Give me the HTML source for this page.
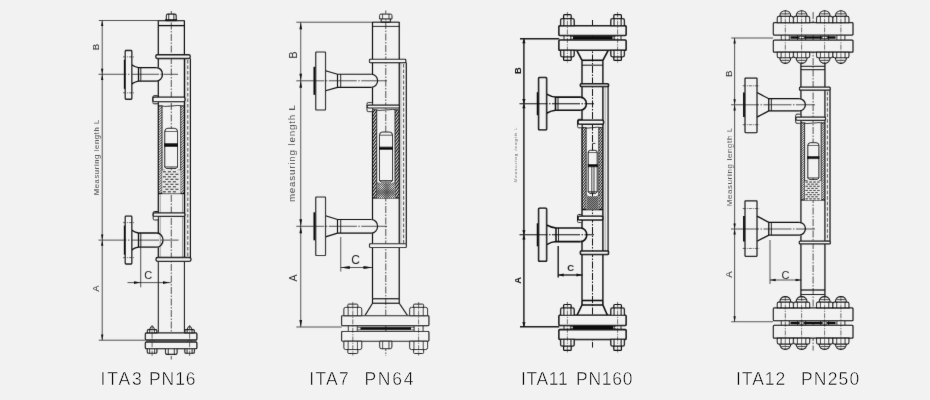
<!DOCTYPE html>
<html><head><meta charset="utf-8"><title>ITA gauges</title><style>html,body{margin:0;padding:0;background:#f2f2f2}body{width:930px;height:400px;overflow:hidden;font-family:"Liberation Sans",sans-serif}svg{display:block;filter:grayscale(1)}</style></head><body>
<svg width="930" height="400" viewBox="0 0 930 400" font-family="'Liberation Sans', sans-serif">
<defs><filter id="soft" x="0" y="0" width="930" height="400" filterUnits="userSpaceOnUse"><feConvolveMatrix order="3" kernelMatrix="0.0049 0.0602 0.0049 0.0602 0.7396 0.0602 0.0049 0.0602 0.0049" divisor="1" edgeMode="duplicate" preserveAlpha="false"/></filter></defs>
<g filter="url(#soft)">
<line x1="171.3" y1="11" x2="171.3" y2="359.5" stroke="#1c1c1c" stroke-width="0.75" stroke-dasharray="7 1.5 1.5 1.5"/>
<rect x="165.4" y="19.4" width="11.4" height="1.3" rx="0.5" fill="none" stroke="#0c0c0c" stroke-width="0.9"/>
<path d="M 166.4 19.5 L 166.4 15.72 Q 166.4 14.1 168.02 14.1 L 174.58 14.1 Q 176.2 14.1 176.2 15.72 L 176.2 19.5 Z" fill="#f2f2f2" stroke="#0c0c0c" stroke-width="1.1" />
<line x1="168.75" y1="14.1" x2="168.75" y2="19.5" stroke="#0c0c0c" stroke-width="0.88"/>
<line x1="173.85" y1="14.1" x2="173.85" y2="19.5" stroke="#0c0c0c" stroke-width="0.88"/>
<line x1="158.3" y1="20.7" x2="184.4" y2="20.7" stroke="#0c0c0c" stroke-width="1.1"/>
<line x1="158.3" y1="25.6" x2="184.4" y2="25.6" stroke="#0c0c0c" stroke-width="1.3"/>
<line x1="158.3" y1="20.5" x2="158.3" y2="67.6" stroke="#0c0c0c" stroke-width="1.2"/>
<line x1="158.3" y1="81.1" x2="158.3" y2="233" stroke="#0c0c0c" stroke-width="1.2"/>
<line x1="158.3" y1="247.2" x2="158.3" y2="261.3" stroke="#0c0c0c" stroke-width="1.2"/>
<line x1="158.3" y1="261.3" x2="158.3" y2="332.8" stroke="#0c0c0c" stroke-width="1"/>
<line x1="184.4" y1="20.5" x2="184.4" y2="261.3" stroke="#0c0c0c" stroke-width="1.2"/>
<line x1="184.4" y1="261.3" x2="184.4" y2="332.8" stroke="#0c0c0c" stroke-width="1"/>
<line x1="190.4" y1="58.5" x2="190.4" y2="257.5" stroke="#0c0c0c" stroke-width="1.15"/>
<line x1="185.7" y1="58.5" x2="185.7" y2="257.5" stroke="#555" stroke-width="0.45"/>
<line x1="187.8" y1="60" x2="187.8" y2="257.5" stroke="#0c0c0c" stroke-width="0.7" stroke-dasharray="3.5 2"/>
<path d="M 158.3 105.5 Q 164.8 107.1 171.3 106 T 184.4 106.1" fill="none" stroke="#0c0c0c" stroke-width="0.8" />
<clipPath id="h1"><rect x="158.3" y="105.5" width="3.7" height="88"/></clipPath>
<path d="M158.3 105.5L162 101.8M158.3 108L162 104.3M158.3 110.5L162 106.8M158.3 113L162 109.3M158.3 115.5L162 111.8M158.3 118L162 114.3M158.3 120.5L162 116.8M158.3 123L162 119.3M158.3 125.5L162 121.8M158.3 128L162 124.3M158.3 130.5L162 126.8M158.3 133L162 129.3M158.3 135.5L162 131.8M158.3 138L162 134.3M158.3 140.5L162 136.8M158.3 143L162 139.3M158.3 145.5L162 141.8M158.3 148L162 144.3M158.3 150.5L162 146.8M158.3 153L162 149.3M158.3 155.5L162 151.8M158.3 158L162 154.3M158.3 160.5L162 156.8M158.3 163L162 159.3M158.3 165.5L162 161.8M158.3 168L162 164.3M158.3 170.5L162 166.8M158.3 173L162 169.3M158.3 175.5L162 171.8M158.3 178L162 174.3M158.3 180.5L162 176.8M158.3 183L162 179.3M158.3 185.5L162 181.8M158.3 188L162 184.3M158.3 190.5L162 186.8M158.3 193L162 189.3M158.3 195.5L162 191.8M158.3 198L162 194.3M158.3 200.5L162 196.8" stroke="#0c0c0c" stroke-width="0.85" fill="none" clip-path="url(#h1)"/>
<clipPath id="h2"><rect x="180.7" y="105.5" width="3.7" height="88"/></clipPath>
<path d="M180.7 105.5L184.4 101.8M180.7 108L184.4 104.3M180.7 110.5L184.4 106.8M180.7 113L184.4 109.3M180.7 115.5L184.4 111.8M180.7 118L184.4 114.3M180.7 120.5L184.4 116.8M180.7 123L184.4 119.3M180.7 125.5L184.4 121.8M180.7 128L184.4 124.3M180.7 130.5L184.4 126.8M180.7 133L184.4 129.3M180.7 135.5L184.4 131.8M180.7 138L184.4 134.3M180.7 140.5L184.4 136.8M180.7 143L184.4 139.3M180.7 145.5L184.4 141.8M180.7 148L184.4 144.3M180.7 150.5L184.4 146.8M180.7 153L184.4 149.3M180.7 155.5L184.4 151.8M180.7 158L184.4 154.3M180.7 160.5L184.4 156.8M180.7 163L184.4 159.3M180.7 165.5L184.4 161.8M180.7 168L184.4 164.3M180.7 170.5L184.4 166.8M180.7 173L184.4 169.3M180.7 175.5L184.4 171.8M180.7 178L184.4 174.3M180.7 180.5L184.4 176.8M180.7 183L184.4 179.3M180.7 185.5L184.4 181.8M180.7 188L184.4 184.3M180.7 190.5L184.4 186.8M180.7 193L184.4 189.3M180.7 195.5L184.4 191.8M180.7 198L184.4 194.3M180.7 200.5L184.4 196.8" stroke="#0c0c0c" stroke-width="0.85" fill="none" clip-path="url(#h2)"/>
<line x1="162" y1="105.5" x2="162" y2="193.5" stroke="#0c0c0c" stroke-width="0.85"/>
<line x1="180.7" y1="105.5" x2="180.7" y2="193.5" stroke="#0c0c0c" stroke-width="0.85"/>
<line x1="158.3" y1="193.5" x2="184.4" y2="193.5" stroke="#0c0c0c" stroke-width="1.3"/>
<line x1="160.2" y1="193.5" x2="160.2" y2="257.5" stroke="#4a4a4a" stroke-width="0.5"/>
<line x1="182.5" y1="193.5" x2="182.5" y2="257.5" stroke="#4a4a4a" stroke-width="0.5"/>
<path d="M 164.75 167 L 164.75 131.49 Q 164.75 128.3 167.94 128.3 L 174.31 128.3 Q 177.5 128.3 177.5 131.49 L 177.5 167" fill="#f2f2f2" stroke="#0c0c0c" stroke-width="1" />
<line x1="164.75" y1="131.49" x2="177.5" y2="131.49" stroke="#0c0c0c" stroke-width="0.7"/>
<path d="M 164.75 167 L 166.25 168.6 L 176 168.6 L 177.5 167 Z" fill="none" stroke="#0c0c0c" stroke-width="0.9" />
<rect x="164.75" y="143.5" width="12.75" height="3.2" rx="0" fill="#0c0c0c" stroke="#0c0c0c" stroke-width="0.6"/>
<line x1="162" y1="170" x2="164.75" y2="170" stroke="#0c0c0c" stroke-width="0.7"/>
<line x1="177.5" y1="170" x2="180.7" y2="170" stroke="#0c0c0c" stroke-width="0.7"/>
<rect x="162.3" y="170.3" width="18.2" height="23.2" fill="#e7e7e7"/>
<path d="M162.9 171.8h3M167.9 171.8h3M172.9 171.8h3M165.4 174.3h3M170.4 174.3h3M175.4 174.3h3M162.9 176.8h3M167.9 176.8h3M172.9 176.8h3M165.4 179.3h3M170.4 179.3h3M175.4 179.3h3M162.9 181.8h3M167.9 181.8h3M172.9 181.8h3M165.4 184.3h3M170.4 184.3h3M175.4 184.3h3M162.9 186.8h3M167.9 186.8h3M172.9 186.8h3M165.4 189.3h3M170.4 189.3h3M175.4 189.3h3M162.9 191.8h3M167.9 191.8h3M172.9 191.8h3" stroke="#0c0c0c" stroke-width="0.95" fill="none"/>
<rect x="155.75" y="54.75" width="34.5" height="3.75" rx="1.8" fill="#f2f2f2" stroke="#0c0c0c" stroke-width="1.3"/>
<rect x="152.9" y="95.7" width="5.4" height="8.1" rx="1.2" fill="#f2f2f2" stroke="#0c0c0c" stroke-width="0.95"/>
<rect x="152.9" y="97.2" width="32.1" height="4.4" rx="1.5" fill="#f2f2f2" stroke="#0c0c0c" stroke-width="1.3"/>
<rect x="153.2" y="211.5" width="5.1" height="8.5" rx="1.2" fill="#f2f2f2" stroke="#0c0c0c" stroke-width="0.95"/>
<rect x="153.2" y="212.9" width="31.7" height="3.5" rx="1.5" fill="#f2f2f2" stroke="#0c0c0c" stroke-width="1.3"/>
<rect x="156" y="257.5" width="35" height="3.8" rx="1.8" fill="#f2f2f2" stroke="#0c0c0c" stroke-width="1.3"/>
<rect x="125.3" y="50.5" width="6.45" height="48.75" rx="0.8" fill="#f2f2f2" stroke="#0c0c0c" stroke-width="1.3"/>
<line x1="124.8" y1="59.7" x2="124.8" y2="88.9" stroke="#0c0c0c" stroke-width="1.9"/>
<line x1="123.1" y1="56.9" x2="133.95" y2="56.9" stroke="#1c1c1c" stroke-width="0.7" stroke-dasharray="3 1 1 1"/>
<line x1="123.1" y1="92.85" x2="133.95" y2="92.85" stroke="#1c1c1c" stroke-width="0.7" stroke-dasharray="3 1 1 1"/>
<path d="M 131.75 64.7 Q 135.46 67.25 138.5 67.55 L 156.3 67.55" fill="none" stroke="#0c0c0c" stroke-width="1.3" />
<path d="M 131.75 83.9 Q 135.46 81.35 138.5 81.05 L 156.3 81.05" fill="none" stroke="#0c0c0c" stroke-width="1.3" />
<line x1="138.5" y1="67.55" x2="138.5" y2="81.05" stroke="#0c0c0c" stroke-width="1.3"/>
<line x1="140.8" y1="67.55" x2="140.8" y2="81.05" stroke="#0c0c0c" stroke-width="0.9"/>
<path d="M 156.3 67.55 A 6.2 6.75 0 0 1 156.3 81.05" fill="none" stroke="#0c0c0c" stroke-width="1.3" />
<rect x="125.3" y="216.2" width="6.45" height="47.8" rx="0.8" fill="#f2f2f2" stroke="#0c0c0c" stroke-width="1.3"/>
<line x1="124.8" y1="225.5" x2="124.8" y2="254.7" stroke="#0c0c0c" stroke-width="1.9"/>
<line x1="123.1" y1="222.6" x2="133.95" y2="222.6" stroke="#1c1c1c" stroke-width="0.7" stroke-dasharray="3 1 1 1"/>
<line x1="123.1" y1="257.6" x2="133.95" y2="257.6" stroke="#1c1c1c" stroke-width="0.7" stroke-dasharray="3 1 1 1"/>
<path d="M 131.75 230.3 Q 135.46 232.7 138.5 233 L 156.8 233" fill="none" stroke="#0c0c0c" stroke-width="1.3" />
<path d="M 131.75 249.9 Q 135.46 247.5 138.5 247.2 L 156.8 247.2" fill="none" stroke="#0c0c0c" stroke-width="1.3" />
<line x1="138.5" y1="233" x2="138.5" y2="247.2" stroke="#0c0c0c" stroke-width="1.3"/>
<line x1="140.8" y1="233" x2="140.8" y2="247.2" stroke="#0c0c0c" stroke-width="0.9"/>
<path d="M 156.8 233 A 6.2 7.1 0 0 1 156.8 247.2" fill="none" stroke="#0c0c0c" stroke-width="1.3" />
<line x1="98.5" y1="74.3" x2="178" y2="74.3" stroke="#1c1c1c" stroke-width="0.75" stroke-dasharray="28 1.5 1.5 1.5"/>
<line x1="98.5" y1="240.1" x2="178.5" y2="240.1" stroke="#1c1c1c" stroke-width="0.75" stroke-dasharray="28 1.5 1.5 1.5"/>
<line x1="150.1" y1="340" x2="150.1" y2="342" stroke="#0c0c0c" stroke-width="0.7"/>
<line x1="154.1" y1="340" x2="154.1" y2="342" stroke="#0c0c0c" stroke-width="0.7"/>
<line x1="187.6" y1="340" x2="187.6" y2="342" stroke="#0c0c0c" stroke-width="0.7"/>
<line x1="191.6" y1="340" x2="191.6" y2="342" stroke="#0c0c0c" stroke-width="0.7"/>
<rect x="145.4" y="332.9" width="51.4" height="7.1" rx="1" fill="#f2f2f2" stroke="#0c0c0c" stroke-width="1.3"/>
<rect x="145.4" y="342" width="51.4" height="6.7" rx="1" fill="#f2f2f2" stroke="#0c0c0c" stroke-width="1.3"/>
<line x1="146" y1="341" x2="196.2" y2="341" stroke="#555" stroke-width="1.2"/>
<path d="M 149.5 329.6 L 150.9 326.8 L 153.3 326.8 L 154.7 329.6" fill="none" stroke="#0c0c0c" stroke-width="0.9" />
<path d="M 147.4 332.9 L 147.4 330.59 Q 147.4 329.6 148.39 329.6 L 155.81 329.6 Q 156.8 329.6 156.8 330.59 L 156.8 332.9 Z" fill="#f2f2f2" stroke="#0c0c0c" stroke-width="1.1" />
<line x1="149.66" y1="329.6" x2="149.66" y2="332.9" stroke="#0c0c0c" stroke-width="0.88"/>
<line x1="154.54" y1="329.6" x2="154.54" y2="332.9" stroke="#0c0c0c" stroke-width="0.88"/>
<path d="M 147.3 348.7 L 147.3 351.92 Q 147.3 353.3 148.68 353.3 L 155.52 353.3 Q 156.9 353.3 156.9 351.92 L 156.9 348.7 Z" fill="#f2f2f2" stroke="#0c0c0c" stroke-width="1.1" />
<line x1="149.6" y1="348.7" x2="149.6" y2="353.3" stroke="#0c0c0c" stroke-width="0.88"/>
<line x1="154.6" y1="348.7" x2="154.6" y2="353.3" stroke="#0c0c0c" stroke-width="0.88"/>
<line x1="152.1" y1="325" x2="152.1" y2="357" stroke="#1c1c1c" stroke-width="0.65" stroke-dasharray="5 1.2 1.2 1.2"/>
<path d="M 187 329.6 L 188.4 326.8 L 190.8 326.8 L 192.2 329.6" fill="none" stroke="#0c0c0c" stroke-width="0.9" />
<path d="M 184.9 332.9 L 184.9 330.59 Q 184.9 329.6 185.89 329.6 L 193.31 329.6 Q 194.3 329.6 194.3 330.59 L 194.3 332.9 Z" fill="#f2f2f2" stroke="#0c0c0c" stroke-width="1.1" />
<line x1="187.16" y1="329.6" x2="187.16" y2="332.9" stroke="#0c0c0c" stroke-width="0.88"/>
<line x1="192.04" y1="329.6" x2="192.04" y2="332.9" stroke="#0c0c0c" stroke-width="0.88"/>
<path d="M 184.8 348.7 L 184.8 351.92 Q 184.8 353.3 186.18 353.3 L 193.02 353.3 Q 194.4 353.3 194.4 351.92 L 194.4 348.7 Z" fill="#f2f2f2" stroke="#0c0c0c" stroke-width="1.1" />
<line x1="187.1" y1="348.7" x2="187.1" y2="353.3" stroke="#0c0c0c" stroke-width="0.88"/>
<line x1="192.1" y1="348.7" x2="192.1" y2="353.3" stroke="#0c0c0c" stroke-width="0.88"/>
<line x1="189.6" y1="325" x2="189.6" y2="357" stroke="#1c1c1c" stroke-width="0.65" stroke-dasharray="5 1.2 1.2 1.2"/>
<path d="M 165.5 348.7 L 165.5 352.69 Q 165.5 354.4 167.21 354.4 L 175.39 354.4 Q 177.1 354.4 177.1 352.69 L 177.1 348.7 Z" fill="#f2f2f2" stroke="#0c0c0c" stroke-width="1.1" />
<line x1="168.28" y1="348.7" x2="168.28" y2="354.4" stroke="#0c0c0c" stroke-width="0.88"/>
<line x1="174.32" y1="348.7" x2="174.32" y2="354.4" stroke="#0c0c0c" stroke-width="0.88"/>
<line x1="98.8" y1="20.5" x2="158.3" y2="20.5" stroke="#1c1c1c" stroke-width="0.75"/>
<line x1="98.8" y1="340.2" x2="145.3" y2="340.2" stroke="#1c1c1c" stroke-width="0.75"/>
<line x1="102.2" y1="20.5" x2="102.2" y2="340.2" stroke="#1c1c1c" stroke-width="0.75"/>
<polygon points="102.2,20.5 101.05,26.1 103.35,26.1" fill="#0c0c0c"/>
<polygon points="102.2,74.3 101.05,68.7 103.35,68.7" fill="#0c0c0c"/>
<polygon points="102.2,74.3 101.05,79.9 103.35,79.9" fill="#0c0c0c"/>
<polygon points="102.2,240.1 101.05,234.5 103.35,234.5" fill="#0c0c0c"/>
<polygon points="102.2,240.1 101.05,245.7 103.35,245.7" fill="#0c0c0c"/>
<polygon points="102.2,340.2 101.05,334.6 103.35,334.6" fill="#0c0c0c"/>
<text x="99.3" y="47" font-size="9.6" text-anchor="middle" fill="#2a2a2a" transform="rotate(-90 99.3 47)">B</text>
<text x="99.3" y="157.5" font-size="7.6" text-anchor="middle" fill="#111" transform="rotate(-90 99.3 157.5)" textLength="75.5" lengthAdjust="spacing" stroke="#f2f2f2" stroke-width="0.1">Measuring length L</text>
<text x="99.3" y="288.5" font-size="9.6" text-anchor="middle" fill="#2a2a2a" transform="rotate(-90 99.3 288.5)">A</text>
<line x1="140.7" y1="247.5" x2="140.7" y2="287.3" stroke="#1c1c1c" stroke-width="0.75"/>
<line x1="127.5" y1="282.6" x2="170.8" y2="282.6" stroke="#1c1c1c" stroke-width="0.75"/>
<polygon points="140.5,282.6 134,281.3 134,283.9" fill="#0c0c0c"/>
<polygon points="169.5,282.6 163,281.3 163,283.9" fill="#0c0c0c"/>
<text x="148.2" y="279.3" font-size="11" text-anchor="middle" fill="#1e1e1e">C</text>
<line x1="385.8" y1="10.5" x2="385.8" y2="356" stroke="#1c1c1c" stroke-width="0.75" stroke-dasharray="7 1.5 1.5 1.5"/>
<rect x="381.2" y="18.6" width="9.2" height="3.6" rx="0.4" fill="none" stroke="#0c0c0c" stroke-width="1"/>
<path d="M 379.6 18.9 L 379.6 15.54 Q 379.6 14.1 381.04 14.1 L 390.56 14.1 Q 392 14.1 392 15.54 L 392 18.9 Z" fill="#f2f2f2" stroke="#0c0c0c" stroke-width="0.98" />
<line x1="382.58" y1="14.1" x2="382.58" y2="18.9" stroke="#0c0c0c" stroke-width="0.78"/>
<line x1="389.02" y1="14.1" x2="389.02" y2="18.9" stroke="#0c0c0c" stroke-width="0.78"/>
<line x1="372.5" y1="22.2" x2="399.25" y2="22.2" stroke="#0c0c0c" stroke-width="1.1"/>
<line x1="372.5" y1="26.4" x2="399.25" y2="26.4" stroke="#0c0c0c" stroke-width="0.9"/>
<line x1="372.5" y1="22" x2="372.5" y2="74.2" stroke="#0c0c0c" stroke-width="1.2"/>
<line x1="372.5" y1="87.4" x2="372.5" y2="219.6" stroke="#0c0c0c" stroke-width="1.2"/>
<line x1="372.5" y1="233.2" x2="372.5" y2="298.75" stroke="#0c0c0c" stroke-width="1.2"/>
<line x1="399.25" y1="22" x2="399.25" y2="298.75" stroke="#0c0c0c" stroke-width="1.2"/>
<line x1="406.3" y1="62.6" x2="406.3" y2="243.75" stroke="#0c0c0c" stroke-width="1.15"/>
<line x1="400.9" y1="62.6" x2="400.9" y2="243.75" stroke="#555" stroke-width="0.45"/>
<line x1="403.6" y1="64.1" x2="403.6" y2="243.75" stroke="#0c0c0c" stroke-width="0.7" stroke-dasharray="3.5 2"/>
<path d="M 372.5 109.5 Q 379.15 111.1 385.8 110 T 399.25 110.1" fill="none" stroke="#0c0c0c" stroke-width="0.8" />
<clipPath id="h3"><rect x="372.5" y="109.5" width="4.2" height="88.5"/></clipPath>
<path d="M372.5 109.5L376.7 103.62M372.5 113.1L376.7 107.22M372.5 116.7L376.7 110.82M372.5 120.3L376.7 114.42M372.5 123.9L376.7 118.02M372.5 127.5L376.7 121.62M372.5 131.1L376.7 125.22M372.5 134.7L376.7 128.82M372.5 138.3L376.7 132.42M372.5 141.9L376.7 136.02M372.5 145.5L376.7 139.62M372.5 149.1L376.7 143.22M372.5 152.7L376.7 146.82M372.5 156.3L376.7 150.42M372.5 159.9L376.7 154.02M372.5 163.5L376.7 157.62M372.5 167.1L376.7 161.22M372.5 170.7L376.7 164.82M372.5 174.3L376.7 168.42M372.5 177.9L376.7 172.02M372.5 181.5L376.7 175.62M372.5 185.1L376.7 179.22M372.5 188.7L376.7 182.82M372.5 192.3L376.7 186.42M372.5 195.9L376.7 190.02M372.5 199.5L376.7 193.62M372.5 203.1L376.7 197.22M372.5 206.7L376.7 200.82" stroke="#0c0c0c" stroke-width="1.05" fill="none" clip-path="url(#h3)"/>
<clipPath id="h4"><rect x="395.05" y="109.5" width="4.2" height="88.5"/></clipPath>
<path d="M395.05 109.5L399.25 103.62M395.05 113.1L399.25 107.22M395.05 116.7L399.25 110.82M395.05 120.3L399.25 114.42M395.05 123.9L399.25 118.02M395.05 127.5L399.25 121.62M395.05 131.1L399.25 125.22M395.05 134.7L399.25 128.82M395.05 138.3L399.25 132.42M395.05 141.9L399.25 136.02M395.05 145.5L399.25 139.62M395.05 149.1L399.25 143.22M395.05 152.7L399.25 146.82M395.05 156.3L399.25 150.42M395.05 159.9L399.25 154.02M395.05 163.5L399.25 157.62M395.05 167.1L399.25 161.22M395.05 170.7L399.25 164.82M395.05 174.3L399.25 168.42M395.05 177.9L399.25 172.02M395.05 181.5L399.25 175.62M395.05 185.1L399.25 179.22M395.05 188.7L399.25 182.82M395.05 192.3L399.25 186.42M395.05 195.9L399.25 190.02M395.05 199.5L399.25 193.62M395.05 203.1L399.25 197.22M395.05 206.7L399.25 200.82" stroke="#0c0c0c" stroke-width="1.05" fill="none" clip-path="url(#h4)"/>
<line x1="376.7" y1="109.5" x2="376.7" y2="198" stroke="#0c0c0c" stroke-width="0.85"/>
<line x1="395.05" y1="109.5" x2="395.05" y2="198" stroke="#0c0c0c" stroke-width="0.85"/>
<line x1="372.5" y1="198" x2="399.25" y2="198" stroke="#0c0c0c" stroke-width="1.15"/>
<path d="M 379.5 180.5 L 379.5 135.2 Q 379.5 132 382.7 132 L 389.3 132 Q 392.5 132 392.5 135.2 L 392.5 180.5" fill="#f2f2f2" stroke="#0c0c0c" stroke-width="1" />
<line x1="379.5" y1="135.2" x2="392.5" y2="135.2" stroke="#0c0c0c" stroke-width="0.7"/>
<path d="M 379.5 180.5 L 381 182.1 L 391 182.1 L 392.5 180.5 Z" fill="none" stroke="#0c0c0c" stroke-width="0.9" />
<rect x="379.5" y="147" width="13" height="2.6" rx="0" fill="#0c0c0c" stroke="#0c0c0c" stroke-width="0.6"/>
<line x1="376.7" y1="183" x2="379.5" y2="183" stroke="#0c0c0c" stroke-width="0.7"/>
<line x1="392.5" y1="183" x2="395.05" y2="183" stroke="#0c0c0c" stroke-width="0.7"/>
<rect x="377" y="183.3" width="17.85" height="14.7" fill="#e7e7e7"/>
<clipPath id="h5"><rect x="377" y="183.3" width="17.85" height="14.7"/></clipPath>
<path d="M377 183.3L394.85 165.45M377 165.45L394.85 183.3M377 185.5L394.85 167.65M377 167.65L394.85 185.5M377 187.7L394.85 169.85M377 169.85L394.85 187.7M377 189.9L394.85 172.05M377 172.05L394.85 189.9M377 192.1L394.85 174.25M377 174.25L394.85 192.1M377 194.3L394.85 176.45M377 176.45L394.85 194.3M377 196.5L394.85 178.65M377 178.65L394.85 196.5M377 198.7L394.85 180.85M377 180.85L394.85 198.7M377 200.9L394.85 183.05M377 183.05L394.85 200.9M377 203.1L394.85 185.25M377 185.25L394.85 203.1M377 205.3L394.85 187.45M377 187.45L394.85 205.3M377 207.5L394.85 189.65M377 189.65L394.85 207.5M377 209.7L394.85 191.85M377 191.85L394.85 209.7M377 211.9L394.85 194.05M377 194.05L394.85 211.9M377 214.1L394.85 196.25M377 196.25L394.85 214.1M377 216.3L394.85 198.45M377 198.45L394.85 216.3M377 218.5L394.85 200.65M377 200.65L394.85 218.5M377 220.7L394.85 202.85M377 202.85L394.85 220.7M377 222.9L394.85 205.05M377 205.05L394.85 222.9M377 225.1L394.85 207.25M377 207.25L394.85 225.1M377 227.3L394.85 209.45M377 209.45L394.85 227.3M377 229.5L394.85 211.65M377 211.65L394.85 229.5M377 231.7L394.85 213.85M377 213.85L394.85 231.7" stroke="#0c0c0c" stroke-width="0.7" fill="none" clip-path="url(#h5)"/>
<rect x="369.5" y="59.25" width="36.3" height="3.35" rx="0.9" fill="#f2f2f2" stroke="#0c0c0c" stroke-width="1.15"/>
<rect x="367" y="102.6" width="5.5" height="9" rx="1.2" fill="#f2f2f2" stroke="#0c0c0c" stroke-width="0.95"/>
<rect x="367.3" y="105.1" width="32.2" height="2.9" rx="1.5" fill="#f2f2f2" stroke="#0c0c0c" stroke-width="1.15"/>
<rect x="369.5" y="243.75" width="36.9" height="3.75" rx="0.9" fill="#f2f2f2" stroke="#0c0c0c" stroke-width="1.15"/>
<rect x="315.75" y="52" width="9.75" height="58" rx="0.8" fill="#f2f2f2" stroke="#0c0c0c" stroke-width="1.15"/>
<line x1="314.45" y1="66.8" x2="314.45" y2="94.8" stroke="#0c0c0c" stroke-width="1.9"/>
<path d="M 325.5 70.8 L 337.5 74.2 L 371.4 74.2" fill="none" stroke="#0c0c0c" stroke-width="1.15" />
<path d="M 325.5 90.8 L 337.5 87.4 L 371.4 87.4" fill="none" stroke="#0c0c0c" stroke-width="1.15" />
<line x1="337.5" y1="74.2" x2="337.5" y2="87.4" stroke="#0c0c0c" stroke-width="1.15"/>
<line x1="340.7" y1="74.2" x2="340.7" y2="87.4" stroke="#0c0c0c" stroke-width="0.9"/>
<path d="M 371.4 74.2 A 6.2 6.6 0 0 1 371.4 87.4" fill="none" stroke="#0c0c0c" stroke-width="1.15" />
<rect x="315.75" y="197" width="9.75" height="58.5" rx="0.8" fill="#f2f2f2" stroke="#0c0c0c" stroke-width="1.15"/>
<line x1="314.45" y1="212.3" x2="314.45" y2="240.3" stroke="#0c0c0c" stroke-width="1.9"/>
<path d="M 325.5 215.7 L 337.5 219.5 L 371.4 219.5" fill="none" stroke="#0c0c0c" stroke-width="1.15" />
<path d="M 325.5 236.9 L 337.5 233.1 L 371.4 233.1" fill="none" stroke="#0c0c0c" stroke-width="1.15" />
<line x1="337.5" y1="219.5" x2="337.5" y2="233.1" stroke="#0c0c0c" stroke-width="1.15"/>
<line x1="340.7" y1="219.5" x2="340.7" y2="233.1" stroke="#0c0c0c" stroke-width="0.9"/>
<path d="M 371.4 219.5 A 6.2 6.8 0 0 1 371.4 233.1" fill="none" stroke="#0c0c0c" stroke-width="1.15" />
<line x1="296.3" y1="80.8" x2="387" y2="80.8" stroke="#1c1c1c" stroke-width="0.75" stroke-dasharray="28 1.5 1.5 1.5"/>
<line x1="296.3" y1="226.3" x2="387" y2="226.3" stroke="#1c1c1c" stroke-width="0.75" stroke-dasharray="28 1.5 1.5 1.5"/>
<line x1="372.5" y1="298.75" x2="399.25" y2="298.75" stroke="#0c0c0c" stroke-width="1.15"/>
<line x1="372.5" y1="303.25" x2="399.25" y2="303.25" stroke="#0c0c0c" stroke-width="1.15"/>
<line x1="372.5" y1="298.75" x2="372.5" y2="303.25" stroke="#0c0c0c" stroke-width="1.15"/>
<line x1="399.25" y1="298.75" x2="399.25" y2="303.25" stroke="#0c0c0c" stroke-width="1.15"/>
<path d="M 372.5 303.25 L 365 315.5" fill="none" stroke="#0c0c0c" stroke-width="1.15" />
<path d="M 399.25 303.25 L 407.5 315.5" fill="none" stroke="#0c0c0c" stroke-width="1.15" />
<line x1="348.32" y1="325.6" x2="348.32" y2="331.5" stroke="#0c0c0c" stroke-width="0.8"/>
<line x1="357.28" y1="325.6" x2="357.28" y2="331.5" stroke="#0c0c0c" stroke-width="0.8"/>
<line x1="414.12" y1="325.6" x2="414.12" y2="331.5" stroke="#0c0c0c" stroke-width="0.8"/>
<line x1="423.08" y1="325.6" x2="423.08" y2="331.5" stroke="#0c0c0c" stroke-width="0.8"/>
<rect x="341.6" y="315.7" width="87.3" height="9.9" rx="0.9" fill="#f2f2f2" stroke="#0c0c0c" stroke-width="1.15"/>
<rect x="341.6" y="331.5" width="87.3" height="9.7" rx="0.9" fill="#f2f2f2" stroke="#0c0c0c" stroke-width="1.15"/>
<line x1="360.5" y1="328.55" x2="411" y2="328.55" stroke="#0c0c0c" stroke-width="2.4"/>
<line x1="357.5" y1="327.25" x2="414" y2="327.25" stroke="#0c0c0c" stroke-width="0.6"/>
<line x1="357.5" y1="329.85" x2="414" y2="329.85" stroke="#0c0c0c" stroke-width="0.6"/>
<path d="M 343.85 315.7 L 343.85 309.2 Q 343.85 307.4 345.65 307.4 L 359.95 307.4 Q 361.75 307.4 361.75 309.2 L 361.75 315.7 Z" fill="#f2f2f2" stroke="#0c0c0c" stroke-width="0.98" />
<line x1="348.15" y1="307.4" x2="348.15" y2="315.7" stroke="#0c0c0c" stroke-width="0.78"/>
<line x1="357.45" y1="307.4" x2="357.45" y2="315.7" stroke="#0c0c0c" stroke-width="0.78"/>
<path d="M 347.79 307.4 L 347.79 305.1 Q 347.79 304.1 348.79 304.1 L 356.81 304.1 Q 357.81 304.1 357.81 305.1 L 357.81 307.4" fill="none" stroke="#0c0c0c" stroke-width="0.88" />
<path d="M 343.85 341.2 L 343.85 347.7 Q 343.85 349.5 345.65 349.5 L 359.95 349.5 Q 361.75 349.5 361.75 347.7 L 361.75 341.2 Z" fill="#f2f2f2" stroke="#0c0c0c" stroke-width="0.98" />
<line x1="348.15" y1="341.2" x2="348.15" y2="349.5" stroke="#0c0c0c" stroke-width="0.78"/>
<line x1="357.45" y1="341.2" x2="357.45" y2="349.5" stroke="#0c0c0c" stroke-width="0.78"/>
<path d="M 347.79 349.5 L 347.79 352.5 Q 347.79 353.5 348.79 353.5 L 356.81 353.5 Q 357.81 353.5 357.81 352.5 L 357.81 349.5" fill="none" stroke="#0c0c0c" stroke-width="0.88" />
<line x1="352.8" y1="302.1" x2="352.8" y2="355.5" stroke="#1c1c1c" stroke-width="0.65" stroke-dasharray="5 1.2 1.2 1.2"/>
<path d="M 409.65 315.7 L 409.65 309.2 Q 409.65 307.4 411.45 307.4 L 425.75 307.4 Q 427.55 307.4 427.55 309.2 L 427.55 315.7 Z" fill="#f2f2f2" stroke="#0c0c0c" stroke-width="0.98" />
<line x1="413.95" y1="307.4" x2="413.95" y2="315.7" stroke="#0c0c0c" stroke-width="0.78"/>
<line x1="423.25" y1="307.4" x2="423.25" y2="315.7" stroke="#0c0c0c" stroke-width="0.78"/>
<path d="M 413.59 307.4 L 413.59 305.1 Q 413.59 304.1 414.59 304.1 L 422.61 304.1 Q 423.61 304.1 423.61 305.1 L 423.61 307.4" fill="none" stroke="#0c0c0c" stroke-width="0.88" />
<path d="M 409.65 341.2 L 409.65 347.7 Q 409.65 349.5 411.45 349.5 L 425.75 349.5 Q 427.55 349.5 427.55 347.7 L 427.55 341.2 Z" fill="#f2f2f2" stroke="#0c0c0c" stroke-width="0.98" />
<line x1="413.95" y1="341.2" x2="413.95" y2="349.5" stroke="#0c0c0c" stroke-width="0.78"/>
<line x1="423.25" y1="341.2" x2="423.25" y2="349.5" stroke="#0c0c0c" stroke-width="0.78"/>
<path d="M 413.59 349.5 L 413.59 352.5 Q 413.59 353.5 414.59 353.5 L 422.61 353.5 Q 423.61 353.5 423.61 352.5 L 423.61 349.5" fill="none" stroke="#0c0c0c" stroke-width="0.88" />
<line x1="418.6" y1="302.1" x2="418.6" y2="355.5" stroke="#1c1c1c" stroke-width="0.65" stroke-dasharray="5 1.2 1.2 1.2"/>
<path d="M 379.7 341.2 L 379.7 346.9 Q 379.7 348.7 381.5 348.7 L 390.1 348.7 Q 391.9 348.7 391.9 346.9 L 391.9 341.2 Z" fill="#f2f2f2" stroke="#0c0c0c" stroke-width="0.98" />
<line x1="382.63" y1="341.2" x2="382.63" y2="348.7" stroke="#0c0c0c" stroke-width="0.78"/>
<line x1="388.97" y1="341.2" x2="388.97" y2="348.7" stroke="#0c0c0c" stroke-width="0.78"/>
<line x1="296.3" y1="22.2" x2="372.5" y2="22.2" stroke="#1c1c1c" stroke-width="0.75"/>
<line x1="296.3" y1="327" x2="341.75" y2="327" stroke="#1c1c1c" stroke-width="0.75"/>
<line x1="300.75" y1="22.2" x2="300.75" y2="327" stroke="#1c1c1c" stroke-width="0.75"/>
<polygon points="300.75,22.2 299.45,29.2 302.05,29.2" fill="#0c0c0c"/>
<polygon points="300.75,80.8 299.45,73.8 302.05,73.8" fill="#0c0c0c"/>
<polygon points="300.75,80.8 299.45,87.8 302.05,87.8" fill="#0c0c0c"/>
<polygon points="300.75,226.3 299.45,219.3 302.05,219.3" fill="#0c0c0c"/>
<polygon points="300.75,226.3 299.45,233.3 302.05,233.3" fill="#0c0c0c"/>
<polygon points="300.75,327 299.45,320 302.05,320" fill="#0c0c0c"/>
<text x="297.2" y="55" font-size="10.5" text-anchor="middle" fill="#2a2a2a" transform="rotate(-90 297.2 55)">B</text>
<text x="295.2" y="153.6" font-size="9.7" text-anchor="middle" fill="#111" transform="rotate(-90 295.2 153.6)" textLength="97" lengthAdjust="spacing" stroke="#f2f2f2" stroke-width="0.1">measuring length L</text>
<text x="297.2" y="278" font-size="10.5" text-anchor="middle" fill="#2a2a2a" transform="rotate(-90 297.2 278)">A</text>
<line x1="340.75" y1="237" x2="340.75" y2="271.5" stroke="#1c1c1c" stroke-width="0.75"/>
<line x1="340.75" y1="267.5" x2="372.5" y2="267.5" stroke="#1c1c1c" stroke-width="0.75"/>
<polygon points="340.75,267.5 349.75,266 349.75,269" fill="#0c0c0c"/>
<polygon points="372.5,267.5 363.5,266 363.5,269" fill="#0c0c0c"/>
<text x="355.6" y="263.8" font-size="12" text-anchor="middle" fill="#1e1e1e">C</text>
<line x1="592.5" y1="20" x2="592.5" y2="347.5" stroke="#0c0c0c" stroke-width="1" stroke-dasharray="7 1.5 1.5 1.5"/>
<line x1="564" y1="35.5" x2="564" y2="40" stroke="#0c0c0c" stroke-width="0.8"/>
<line x1="570.8" y1="35.5" x2="570.8" y2="40" stroke="#0c0c0c" stroke-width="0.8"/>
<line x1="614.2" y1="35.5" x2="614.2" y2="40" stroke="#0c0c0c" stroke-width="0.8"/>
<line x1="621" y1="35.5" x2="621" y2="40" stroke="#0c0c0c" stroke-width="0.8"/>
<rect x="558.9" y="25.7" width="67.2" height="9.8" rx="0.9" fill="#f2f2f2" stroke="#0c0c0c" stroke-width="1.55"/>
<rect x="558.9" y="40" width="67.2" height="10.3" rx="0.9" fill="#f2f2f2" stroke="#0c0c0c" stroke-width="1.55"/>
<line x1="573" y1="37.75" x2="612.5" y2="37.75" stroke="#0c0c0c" stroke-width="2.9"/>
<line x1="570" y1="36.45" x2="615.5" y2="36.45" stroke="#0c0c0c" stroke-width="0.6"/>
<line x1="570" y1="39.05" x2="615.5" y2="39.05" stroke="#0c0c0c" stroke-width="0.6"/>
<path d="M 560.6 25.7 L 560.6 20.5 Q 560.6 18.7 562.4 18.7 L 572.4 18.7 Q 574.2 18.7 574.2 20.5 L 574.2 25.7 Z" fill="#f2f2f2" stroke="#0c0c0c" stroke-width="1.32" />
<line x1="563.86" y1="18.7" x2="563.86" y2="25.7" stroke="#0c0c0c" stroke-width="1.05"/>
<line x1="570.94" y1="18.7" x2="570.94" y2="25.7" stroke="#0c0c0c" stroke-width="1.05"/>
<path d="M 563.59 18.7 L 563.59 15.7 Q 563.59 14.7 564.59 14.7 L 570.21 14.7 Q 571.21 14.7 571.21 15.7 L 571.21 18.7" fill="none" stroke="#0c0c0c" stroke-width="1.19" />
<path d="M 560.6 50.3 L 560.6 55 Q 560.6 56.8 562.4 56.8 L 572.4 56.8 Q 574.2 56.8 574.2 55 L 574.2 50.3 Z" fill="#f2f2f2" stroke="#0c0c0c" stroke-width="1.32" />
<line x1="563.86" y1="50.3" x2="563.86" y2="56.8" stroke="#0c0c0c" stroke-width="1.05"/>
<line x1="570.94" y1="50.3" x2="570.94" y2="56.8" stroke="#0c0c0c" stroke-width="1.05"/>
<path d="M 563.59 56.8 L 563.59 59.4 Q 563.59 60.4 564.59 60.4 L 570.21 60.4 Q 571.21 60.4 571.21 59.4 L 571.21 56.8" fill="none" stroke="#0c0c0c" stroke-width="1.19" />
<line x1="567.4" y1="12.2" x2="567.4" y2="62.9" stroke="#1c1c1c" stroke-width="0.65" stroke-dasharray="5 1.2 1.2 1.2"/>
<path d="M 610.8 25.7 L 610.8 20.5 Q 610.8 18.7 612.6 18.7 L 622.6 18.7 Q 624.4 18.7 624.4 20.5 L 624.4 25.7 Z" fill="#f2f2f2" stroke="#0c0c0c" stroke-width="1.32" />
<line x1="614.06" y1="18.7" x2="614.06" y2="25.7" stroke="#0c0c0c" stroke-width="1.05"/>
<line x1="621.14" y1="18.7" x2="621.14" y2="25.7" stroke="#0c0c0c" stroke-width="1.05"/>
<path d="M 613.79 18.7 L 613.79 15.7 Q 613.79 14.7 614.79 14.7 L 620.41 14.7 Q 621.41 14.7 621.41 15.7 L 621.41 18.7" fill="none" stroke="#0c0c0c" stroke-width="1.19" />
<path d="M 610.8 50.3 L 610.8 55 Q 610.8 56.8 612.6 56.8 L 622.6 56.8 Q 624.4 56.8 624.4 55 L 624.4 50.3 Z" fill="#f2f2f2" stroke="#0c0c0c" stroke-width="1.32" />
<line x1="614.06" y1="50.3" x2="614.06" y2="56.8" stroke="#0c0c0c" stroke-width="1.05"/>
<line x1="621.14" y1="50.3" x2="621.14" y2="56.8" stroke="#0c0c0c" stroke-width="1.05"/>
<path d="M 613.79 56.8 L 613.79 59.4 Q 613.79 60.4 614.79 60.4 L 620.41 60.4 Q 621.41 60.4 621.41 59.4 L 621.41 56.8" fill="none" stroke="#0c0c0c" stroke-width="1.19" />
<line x1="617.6" y1="12.2" x2="617.6" y2="62.9" stroke="#1c1c1c" stroke-width="0.65" stroke-dasharray="5 1.2 1.2 1.2"/>
<path d="M 576.8 50.3 L 582 60.3" fill="none" stroke="#0c0c0c" stroke-width="1.55" />
<path d="M 608.2 50.3 L 602.9 60.3" fill="none" stroke="#0c0c0c" stroke-width="1.55" />
<line x1="582" y1="60.3" x2="602.9" y2="60.3" stroke="#0c0c0c" stroke-width="1.55"/>
<line x1="582" y1="65.2" x2="602.9" y2="65.2" stroke="#0c0c0c" stroke-width="1"/>
<line x1="582" y1="60.3" x2="582" y2="96.9" stroke="#0c0c0c" stroke-width="1.4"/>
<line x1="582" y1="110.5" x2="582" y2="227.9" stroke="#0c0c0c" stroke-width="1.4"/>
<line x1="582" y1="241.7" x2="582" y2="300.5" stroke="#0c0c0c" stroke-width="1.4"/>
<line x1="602.9" y1="60.3" x2="602.9" y2="300.5" stroke="#0c0c0c" stroke-width="1.4"/>
<line x1="608.1" y1="86.5" x2="608.1" y2="250.9" stroke="#0c0c0c" stroke-width="1.15"/>
<line x1="605.2" y1="86.5" x2="605.2" y2="250.9" stroke="#555" stroke-width="0.45"/>
<path d="M 582 127.2 Q 587.25 128.8 592.5 127.7 T 602.9 127.8" fill="none" stroke="#0c0c0c" stroke-width="0.8" />
<clipPath id="h6"><rect x="582" y="127.2" width="4.1" height="82.3"/></clipPath>
<path d="M582 127.2L586.1 121.46M582 130.2L586.1 124.46M582 133.2L586.1 127.46M582 136.2L586.1 130.46M582 139.2L586.1 133.46M582 142.2L586.1 136.46M582 145.2L586.1 139.46M582 148.2L586.1 142.46M582 151.2L586.1 145.46M582 154.2L586.1 148.46M582 157.2L586.1 151.46M582 160.2L586.1 154.46M582 163.2L586.1 157.46M582 166.2L586.1 160.46M582 169.2L586.1 163.46M582 172.2L586.1 166.46M582 175.2L586.1 169.46M582 178.2L586.1 172.46M582 181.2L586.1 175.46M582 184.2L586.1 178.46M582 187.2L586.1 181.46M582 190.2L586.1 184.46M582 193.2L586.1 187.46M582 196.2L586.1 190.46M582 199.2L586.1 193.46M582 202.2L586.1 196.46M582 205.2L586.1 199.46M582 208.2L586.1 202.46M582 211.2L586.1 205.46M582 214.2L586.1 208.46M582 217.2L586.1 211.46M582 220.2L586.1 214.46" stroke="#0c0c0c" stroke-width="1" fill="none" clip-path="url(#h6)"/>
<clipPath id="h7"><rect x="598.8" y="127.2" width="4.1" height="82.3"/></clipPath>
<path d="M598.8 127.2L602.9 121.46M598.8 130.2L602.9 124.46M598.8 133.2L602.9 127.46M598.8 136.2L602.9 130.46M598.8 139.2L602.9 133.46M598.8 142.2L602.9 136.46M598.8 145.2L602.9 139.46M598.8 148.2L602.9 142.46M598.8 151.2L602.9 145.46M598.8 154.2L602.9 148.46M598.8 157.2L602.9 151.46M598.8 160.2L602.9 154.46M598.8 163.2L602.9 157.46M598.8 166.2L602.9 160.46M598.8 169.2L602.9 163.46M598.8 172.2L602.9 166.46M598.8 175.2L602.9 169.46M598.8 178.2L602.9 172.46M598.8 181.2L602.9 175.46M598.8 184.2L602.9 178.46M598.8 187.2L602.9 181.46M598.8 190.2L602.9 184.46M598.8 193.2L602.9 187.46M598.8 196.2L602.9 190.46M598.8 199.2L602.9 193.46M598.8 202.2L602.9 196.46M598.8 205.2L602.9 199.46M598.8 208.2L602.9 202.46M598.8 211.2L602.9 205.46M598.8 214.2L602.9 208.46M598.8 217.2L602.9 211.46M598.8 220.2L602.9 214.46" stroke="#0c0c0c" stroke-width="1" fill="none" clip-path="url(#h7)"/>
<line x1="586.1" y1="127.2" x2="586.1" y2="209.5" stroke="#0c0c0c" stroke-width="0.85"/>
<line x1="598.8" y1="127.2" x2="598.8" y2="209.5" stroke="#0c0c0c" stroke-width="0.85"/>
<line x1="582" y1="209.5" x2="602.9" y2="209.5" stroke="#0c0c0c" stroke-width="1.55"/>
<path d="M 588.2 191.8 L 588.2 152.55 Q 588.2 150.3 590.45 150.3 L 594.95 150.3 Q 597.2 150.3 597.2 152.55 L 597.2 191.8" fill="#f2f2f2" stroke="#0c0c0c" stroke-width="1" />
<line x1="588.2" y1="152.55" x2="597.2" y2="152.55" stroke="#0c0c0c" stroke-width="0.7"/>
<path d="M 588.2 191.8 L 589.7 193.4 L 595.7 193.4 L 597.2 191.8 Z" fill="none" stroke="#0c0c0c" stroke-width="0.9" />
<rect x="588.2" y="164.3" width="9" height="2.6" rx="0" fill="#0c0c0c" stroke="#0c0c0c" stroke-width="0.6"/>
<line x1="586.1" y1="196" x2="588.2" y2="196" stroke="#0c0c0c" stroke-width="0.7"/>
<line x1="597.2" y1="196" x2="598.8" y2="196" stroke="#0c0c0c" stroke-width="0.7"/>
<rect x="586.4" y="196.3" width="12.2" height="13.2" fill="#e7e7e7"/>
<clipPath id="h8"><rect x="586.4" y="196.3" width="12.2" height="13.2"/></clipPath>
<path d="M586.4 196.3L598.6 184.1M586.4 184.1L598.6 196.3M586.4 198.3L598.6 186.1M586.4 186.1L598.6 198.3M586.4 200.3L598.6 188.1M586.4 188.1L598.6 200.3M586.4 202.3L598.6 190.1M586.4 190.1L598.6 202.3M586.4 204.3L598.6 192.1M586.4 192.1L598.6 204.3M586.4 206.3L598.6 194.1M586.4 194.1L598.6 206.3M586.4 208.3L598.6 196.1M586.4 196.1L598.6 208.3M586.4 210.3L598.6 198.1M586.4 198.1L598.6 210.3M586.4 212.3L598.6 200.1M586.4 200.1L598.6 212.3M586.4 214.3L598.6 202.1M586.4 202.1L598.6 214.3M586.4 216.3L598.6 204.1M586.4 204.1L598.6 216.3M586.4 218.3L598.6 206.1M586.4 206.1L598.6 218.3M586.4 220.3L598.6 208.1M586.4 208.1L598.6 220.3M586.4 222.3L598.6 210.1M586.4 210.1L598.6 222.3M586.4 224.3L598.6 212.1M586.4 212.1L598.6 224.3M586.4 226.3L598.6 214.1M586.4 214.1L598.6 226.3M586.4 228.3L598.6 216.1M586.4 216.1L598.6 228.3M586.4 230.3L598.6 218.1M586.4 218.1L598.6 230.3M586.4 232.3L598.6 220.1M586.4 220.1L598.6 232.3" stroke="#0c0c0c" stroke-width="0.75" fill="none" clip-path="url(#h8)"/>
<rect x="580.4" y="83.7" width="28.1" height="2.8" rx="0.8" fill="#f2f2f2" stroke="#0c0c0c" stroke-width="1.55"/>
<rect x="577.6" y="119.3" width="4.4" height="8.5" rx="1.2" fill="#f2f2f2" stroke="#0c0c0c" stroke-width="0.95"/>
<rect x="578" y="120.3" width="25.6" height="4" rx="1.5" fill="#f2f2f2" stroke="#0c0c0c" stroke-width="1.55"/>
<rect x="577.5" y="214.5" width="4.5" height="8" rx="1.2" fill="#f2f2f2" stroke="#0c0c0c" stroke-width="0.95"/>
<rect x="578" y="216.25" width="24.8" height="3.75" rx="1.5" fill="#f2f2f2" stroke="#0c0c0c" stroke-width="1.55"/>
<rect x="580.4" y="250.9" width="28.1" height="3.5" rx="0.8" fill="#f2f2f2" stroke="#0c0c0c" stroke-width="1.55"/>
<line x1="591.8" y1="166.5" x2="591.8" y2="193" stroke="#0c0c0c" stroke-width="0.8"/>
<line x1="594" y1="166.5" x2="594" y2="193" stroke="#0c0c0c" stroke-width="0.8"/>
<path d="M 592.5 150 L 592.5 144.5 Q 592.7 142.6 595.3 143.4" fill="none" stroke="#0c0c0c" stroke-width="0.9" />
<rect x="538.6" y="77.5" width="8" height="52.3" rx="0.8" fill="#f2f2f2" stroke="#0c0c0c" stroke-width="1.55"/>
<line x1="537.7" y1="92.2" x2="537.7" y2="115.2" stroke="#0c0c0c" stroke-width="1.9"/>
<path d="M 546.6 94.1 Q 551.5 96.8 555.5 97.1 L 580.2 97.1" fill="none" stroke="#0c0c0c" stroke-width="1.55" />
<path d="M 546.6 113.3 Q 551.5 110.6 555.5 110.3 L 580.2 110.3" fill="none" stroke="#0c0c0c" stroke-width="1.55" />
<line x1="555.5" y1="97.1" x2="555.5" y2="110.3" stroke="#0c0c0c" stroke-width="1.55"/>
<line x1="558" y1="97.1" x2="558" y2="110.3" stroke="#0c0c0c" stroke-width="0.9"/>
<path d="M 580.2 97.1 A 6.2 6.6 0 0 1 580.2 110.3" fill="none" stroke="#0c0c0c" stroke-width="1.55" />
<rect x="538.6" y="208.25" width="8" height="53" rx="0.8" fill="#f2f2f2" stroke="#0c0c0c" stroke-width="1.55"/>
<line x1="537.7" y1="223.3" x2="537.7" y2="246.3" stroke="#0c0c0c" stroke-width="1.9"/>
<path d="M 546.6 225 Q 551.77 227.7 556 228 L 580.6 228" fill="none" stroke="#0c0c0c" stroke-width="1.55" />
<path d="M 546.6 244.6 Q 551.77 241.9 556 241.6 L 580.6 241.6" fill="none" stroke="#0c0c0c" stroke-width="1.55" />
<line x1="556" y1="228" x2="556" y2="241.6" stroke="#0c0c0c" stroke-width="1.55"/>
<line x1="558.5" y1="228" x2="558.5" y2="241.6" stroke="#0c0c0c" stroke-width="0.9"/>
<path d="M 580.6 228 A 6.2 6.8 0 0 1 580.6 241.6" fill="none" stroke="#0c0c0c" stroke-width="1.55" />
<line x1="519.5" y1="103.7" x2="594" y2="103.7" stroke="#0c0c0c" stroke-width="1.1" stroke-dasharray="28 1.5 1.5 1.5"/>
<line x1="519.5" y1="234.8" x2="594" y2="234.8" stroke="#0c0c0c" stroke-width="1.1" stroke-dasharray="28 1.5 1.5 1.5"/>
<line x1="582" y1="300.5" x2="602.9" y2="300.5" stroke="#0c0c0c" stroke-width="1.55"/>
<line x1="582" y1="305" x2="602.9" y2="305" stroke="#0c0c0c" stroke-width="1.55"/>
<line x1="582" y1="300.5" x2="582" y2="305" stroke="#0c0c0c" stroke-width="1.55"/>
<line x1="602.9" y1="300.5" x2="602.9" y2="305" stroke="#0c0c0c" stroke-width="1.55"/>
<path d="M 582 305 L 577 315.3" fill="none" stroke="#0c0c0c" stroke-width="1.55" />
<path d="M 602.9 305 L 607.4 315.3" fill="none" stroke="#0c0c0c" stroke-width="1.55" />
<line x1="564" y1="325.4" x2="564" y2="329.6" stroke="#0c0c0c" stroke-width="0.8"/>
<line x1="570.8" y1="325.4" x2="570.8" y2="329.6" stroke="#0c0c0c" stroke-width="0.8"/>
<line x1="614.2" y1="325.4" x2="614.2" y2="329.6" stroke="#0c0c0c" stroke-width="0.8"/>
<line x1="621" y1="325.4" x2="621" y2="329.6" stroke="#0c0c0c" stroke-width="0.8"/>
<rect x="558.9" y="315.3" width="67.2" height="10.1" rx="0.9" fill="#f2f2f2" stroke="#0c0c0c" stroke-width="1.55"/>
<rect x="558.9" y="329.6" width="67.2" height="9.8" rx="0.9" fill="#f2f2f2" stroke="#0c0c0c" stroke-width="1.55"/>
<line x1="572.8" y1="327.5" x2="613.2" y2="327.5" stroke="#0c0c0c" stroke-width="2.9"/>
<line x1="569.8" y1="326.2" x2="616.2" y2="326.2" stroke="#0c0c0c" stroke-width="0.6"/>
<line x1="569.8" y1="328.8" x2="616.2" y2="328.8" stroke="#0c0c0c" stroke-width="0.6"/>
<path d="M 560.6 315.3 L 560.6 309.7 Q 560.6 307.9 562.4 307.9 L 572.4 307.9 Q 574.2 307.9 574.2 309.7 L 574.2 315.3 Z" fill="#f2f2f2" stroke="#0c0c0c" stroke-width="1.32" />
<line x1="563.86" y1="307.9" x2="563.86" y2="315.3" stroke="#0c0c0c" stroke-width="1.05"/>
<line x1="570.94" y1="307.9" x2="570.94" y2="315.3" stroke="#0c0c0c" stroke-width="1.05"/>
<path d="M 563.59 307.9 L 563.59 305.5 Q 563.59 304.5 564.59 304.5 L 570.21 304.5 Q 571.21 304.5 571.21 305.5 L 571.21 307.9" fill="none" stroke="#0c0c0c" stroke-width="1.19" />
<path d="M 560.6 339.4 L 560.6 344.4 Q 560.6 346.2 562.4 346.2 L 572.4 346.2 Q 574.2 346.2 574.2 344.4 L 574.2 339.4 Z" fill="#f2f2f2" stroke="#0c0c0c" stroke-width="1.32" />
<line x1="563.86" y1="339.4" x2="563.86" y2="346.2" stroke="#0c0c0c" stroke-width="1.05"/>
<line x1="570.94" y1="339.4" x2="570.94" y2="346.2" stroke="#0c0c0c" stroke-width="1.05"/>
<path d="M 563.59 346.2 L 563.59 349.4 Q 563.59 350.4 564.59 350.4 L 570.21 350.4 Q 571.21 350.4 571.21 349.4 L 571.21 346.2" fill="none" stroke="#0c0c0c" stroke-width="1.19" />
<line x1="567.4" y1="302" x2="567.4" y2="352.9" stroke="#1c1c1c" stroke-width="0.65" stroke-dasharray="5 1.2 1.2 1.2"/>
<path d="M 610.8 315.3 L 610.8 309.7 Q 610.8 307.9 612.6 307.9 L 622.6 307.9 Q 624.4 307.9 624.4 309.7 L 624.4 315.3 Z" fill="#f2f2f2" stroke="#0c0c0c" stroke-width="1.32" />
<line x1="614.06" y1="307.9" x2="614.06" y2="315.3" stroke="#0c0c0c" stroke-width="1.05"/>
<line x1="621.14" y1="307.9" x2="621.14" y2="315.3" stroke="#0c0c0c" stroke-width="1.05"/>
<path d="M 613.79 307.9 L 613.79 305.5 Q 613.79 304.5 614.79 304.5 L 620.41 304.5 Q 621.41 304.5 621.41 305.5 L 621.41 307.9" fill="none" stroke="#0c0c0c" stroke-width="1.19" />
<path d="M 610.8 339.4 L 610.8 344.4 Q 610.8 346.2 612.6 346.2 L 622.6 346.2 Q 624.4 346.2 624.4 344.4 L 624.4 339.4 Z" fill="#f2f2f2" stroke="#0c0c0c" stroke-width="1.32" />
<line x1="614.06" y1="339.4" x2="614.06" y2="346.2" stroke="#0c0c0c" stroke-width="1.05"/>
<line x1="621.14" y1="339.4" x2="621.14" y2="346.2" stroke="#0c0c0c" stroke-width="1.05"/>
<path d="M 613.79 346.2 L 613.79 349.4 Q 613.79 350.4 614.79 350.4 L 620.41 350.4 Q 621.41 350.4 621.41 349.4 L 621.41 346.2" fill="none" stroke="#0c0c0c" stroke-width="1.19" />
<line x1="617.6" y1="302" x2="617.6" y2="352.9" stroke="#1c1c1c" stroke-width="0.65" stroke-dasharray="5 1.2 1.2 1.2"/>
<line x1="520" y1="38.75" x2="559.25" y2="38.75" stroke="#1c1c1c" stroke-width="1.45"/>
<line x1="520" y1="326.75" x2="559.25" y2="326.75" stroke="#1c1c1c" stroke-width="1.45"/>
<line x1="523.9" y1="38.75" x2="523.9" y2="326.75" stroke="#1c1c1c" stroke-width="1.45"/>
<polygon points="523.9,38.75 522.3,43.35 525.5,43.35" fill="#0c0c0c"/>
<polygon points="523.9,103.7 522.3,99.1 525.5,99.1" fill="#0c0c0c"/>
<polygon points="523.9,103.7 522.3,108.3 525.5,108.3" fill="#0c0c0c"/>
<polygon points="523.9,234.8 522.3,230.2 525.5,230.2" fill="#0c0c0c"/>
<polygon points="523.9,234.8 522.3,239.4 525.5,239.4" fill="#0c0c0c"/>
<polygon points="523.9,326.75 522.3,322.15 525.5,322.15" fill="#0c0c0c"/>
<text x="520.6" y="70.6" font-size="9.3" text-anchor="middle" fill="#151515" transform="rotate(-90 520.6 70.6)" font-weight="bold">B</text>
<text font-style="italic" x="516.5" y="155" font-size="4.4" text-anchor="middle" fill="#111" transform="rotate(-90 516.5 155)" textLength="55" lengthAdjust="spacing" stroke="#f2f2f2" stroke-width="0.1">Measuring length L</text>
<text x="520.6" y="280.5" font-size="9.3" text-anchor="middle" fill="#151515" transform="rotate(-90 520.6 280.5)" font-weight="bold">A</text>
<line x1="558.2" y1="246" x2="558.2" y2="277.5" stroke="#0c0c0c" stroke-width="1.3"/>
<line x1="558.2" y1="275" x2="582.5" y2="275" stroke="#0c0c0c" stroke-width="1.3"/>
<polygon points="558.2,275 563.7,273.4 563.7,276.6" fill="#0c0c0c"/>
<polygon points="582,275 576.5,273.4 576.5,276.6" fill="#0c0c0c"/>
<text x="570.6" y="271.3" font-size="9.5" text-anchor="middle" fill="#1e1e1e" font-weight="bold">C</text>
<line x1="813.1" y1="12" x2="813.1" y2="350.5" stroke="#1c1c1c" stroke-width="0.75" stroke-dasharray="7 1.5 1.5 1.5"/>
<line x1="781.27" y1="35" x2="781.27" y2="40" stroke="#0c0c0c" stroke-width="0.8"/>
<line x1="789.32" y1="35" x2="789.32" y2="40" stroke="#0c0c0c" stroke-width="0.8"/>
<line x1="797.58" y1="35" x2="797.58" y2="40" stroke="#0c0c0c" stroke-width="0.8"/>
<line x1="805.62" y1="35" x2="805.62" y2="40" stroke="#0c0c0c" stroke-width="0.8"/>
<line x1="820.58" y1="35" x2="820.58" y2="40" stroke="#0c0c0c" stroke-width="0.8"/>
<line x1="828.62" y1="35" x2="828.62" y2="40" stroke="#0c0c0c" stroke-width="0.8"/>
<line x1="836.88" y1="35" x2="836.88" y2="40" stroke="#0c0c0c" stroke-width="0.8"/>
<line x1="844.92" y1="35" x2="844.92" y2="40" stroke="#0c0c0c" stroke-width="0.8"/>
<rect x="773.4" y="22.6" width="79.6" height="12.4" rx="0.9" fill="#f2f2f2" stroke="#0c0c0c" stroke-width="1.25"/>
<rect x="773.4" y="40" width="79.6" height="12.2" rx="0.9" fill="#f2f2f2" stroke="#0c0c0c" stroke-width="1.25"/>
<line x1="790.5" y1="37.5" x2="835.6" y2="37.5" stroke="#0c0c0c" stroke-width="2.3"/>
<rect x="799" y="36.3" width="5.2" height="2.4" rx="1.2" fill="#f2f2f2" stroke="#0c0c0c" stroke-width="0.8"/>
<rect x="822" y="36.3" width="5.2" height="2.4" rx="1.2" fill="#f2f2f2" stroke="#0c0c0c" stroke-width="0.8"/>
<path d="M 777.25 22.6 L 777.25 18.2 Q 777.25 16.4 779.05 16.4 L 791.55 16.4 Q 793.35 16.4 793.35 18.2 L 793.35 22.6 Z" fill="#f2f2f2" stroke="#0c0c0c" stroke-width="1.06" />
<line x1="781.11" y1="16.4" x2="781.11" y2="22.6" stroke="#0c0c0c" stroke-width="0.85"/>
<line x1="789.49" y1="16.4" x2="789.49" y2="22.6" stroke="#0c0c0c" stroke-width="0.85"/>
<path d="M 779.83 16.4 C 779.83 8.99 790.77 8.99 790.77 16.4" fill="none" stroke="#0c0c0c" stroke-width="1.06" />
<line x1="780.92" y1="13.84" x2="789.68" y2="13.84" stroke="#0c0c0c" stroke-width="0.7"/>
<path d="M 777.25 52.2 L 777.25 56.12 Q 777.25 57.8 778.93 57.8 L 791.67 57.8 Q 793.35 57.8 793.35 56.12 L 793.35 52.2 Z" fill="#f2f2f2" stroke="#0c0c0c" stroke-width="1.06" />
<line x1="781.11" y1="52.2" x2="781.11" y2="57.8" stroke="#0c0c0c" stroke-width="0.85"/>
<line x1="789.49" y1="52.2" x2="789.49" y2="57.8" stroke="#0c0c0c" stroke-width="0.85"/>
<path d="M 779.83 57.8 C 779.83 65.21 790.77 65.21 790.77 57.8" fill="none" stroke="#0c0c0c" stroke-width="1.06" />
<line x1="780.92" y1="60.37" x2="789.68" y2="60.37" stroke="#0c0c0c" stroke-width="0.7"/>
<line x1="785.3" y1="10.2" x2="785.3" y2="64" stroke="#1c1c1c" stroke-width="0.65" stroke-dasharray="5 1.2 1.2 1.2"/>
<path d="M 793.55 22.6 L 793.55 18.2 Q 793.55 16.4 795.35 16.4 L 807.85 16.4 Q 809.65 16.4 809.65 18.2 L 809.65 22.6 Z" fill="#f2f2f2" stroke="#0c0c0c" stroke-width="1.06" />
<line x1="797.41" y1="16.4" x2="797.41" y2="22.6" stroke="#0c0c0c" stroke-width="0.85"/>
<line x1="805.79" y1="16.4" x2="805.79" y2="22.6" stroke="#0c0c0c" stroke-width="0.85"/>
<path d="M 796.13 16.4 C 796.13 8.99 807.07 8.99 807.07 16.4" fill="none" stroke="#0c0c0c" stroke-width="1.06" />
<line x1="797.22" y1="13.84" x2="805.98" y2="13.84" stroke="#0c0c0c" stroke-width="0.7"/>
<path d="M 793.55 52.2 L 793.55 56.12 Q 793.55 57.8 795.23 57.8 L 807.97 57.8 Q 809.65 57.8 809.65 56.12 L 809.65 52.2 Z" fill="#f2f2f2" stroke="#0c0c0c" stroke-width="1.06" />
<line x1="797.41" y1="52.2" x2="797.41" y2="57.8" stroke="#0c0c0c" stroke-width="0.85"/>
<line x1="805.79" y1="52.2" x2="805.79" y2="57.8" stroke="#0c0c0c" stroke-width="0.85"/>
<path d="M 796.13 57.8 C 796.13 65.21 807.07 65.21 807.07 57.8" fill="none" stroke="#0c0c0c" stroke-width="1.06" />
<line x1="797.22" y1="60.37" x2="805.98" y2="60.37" stroke="#0c0c0c" stroke-width="0.7"/>
<line x1="801.6" y1="10.2" x2="801.6" y2="64" stroke="#1c1c1c" stroke-width="0.65" stroke-dasharray="5 1.2 1.2 1.2"/>
<path d="M 816.55 22.6 L 816.55 18.2 Q 816.55 16.4 818.35 16.4 L 830.85 16.4 Q 832.65 16.4 832.65 18.2 L 832.65 22.6 Z" fill="#f2f2f2" stroke="#0c0c0c" stroke-width="1.06" />
<line x1="820.41" y1="16.4" x2="820.41" y2="22.6" stroke="#0c0c0c" stroke-width="0.85"/>
<line x1="828.79" y1="16.4" x2="828.79" y2="22.6" stroke="#0c0c0c" stroke-width="0.85"/>
<path d="M 819.13 16.4 C 819.13 8.99 830.07 8.99 830.07 16.4" fill="none" stroke="#0c0c0c" stroke-width="1.06" />
<line x1="820.22" y1="13.84" x2="828.98" y2="13.84" stroke="#0c0c0c" stroke-width="0.7"/>
<path d="M 816.55 52.2 L 816.55 56.12 Q 816.55 57.8 818.23 57.8 L 830.97 57.8 Q 832.65 57.8 832.65 56.12 L 832.65 52.2 Z" fill="#f2f2f2" stroke="#0c0c0c" stroke-width="1.06" />
<line x1="820.41" y1="52.2" x2="820.41" y2="57.8" stroke="#0c0c0c" stroke-width="0.85"/>
<line x1="828.79" y1="52.2" x2="828.79" y2="57.8" stroke="#0c0c0c" stroke-width="0.85"/>
<path d="M 819.13 57.8 C 819.13 65.21 830.07 65.21 830.07 57.8" fill="none" stroke="#0c0c0c" stroke-width="1.06" />
<line x1="820.22" y1="60.37" x2="828.98" y2="60.37" stroke="#0c0c0c" stroke-width="0.7"/>
<line x1="824.6" y1="10.2" x2="824.6" y2="64" stroke="#1c1c1c" stroke-width="0.65" stroke-dasharray="5 1.2 1.2 1.2"/>
<path d="M 832.85 22.6 L 832.85 18.2 Q 832.85 16.4 834.65 16.4 L 847.15 16.4 Q 848.95 16.4 848.95 18.2 L 848.95 22.6 Z" fill="#f2f2f2" stroke="#0c0c0c" stroke-width="1.06" />
<line x1="836.71" y1="16.4" x2="836.71" y2="22.6" stroke="#0c0c0c" stroke-width="0.85"/>
<line x1="845.09" y1="16.4" x2="845.09" y2="22.6" stroke="#0c0c0c" stroke-width="0.85"/>
<path d="M 835.43 16.4 C 835.43 8.99 846.37 8.99 846.37 16.4" fill="none" stroke="#0c0c0c" stroke-width="1.06" />
<line x1="836.52" y1="13.84" x2="845.28" y2="13.84" stroke="#0c0c0c" stroke-width="0.7"/>
<path d="M 832.85 52.2 L 832.85 56.12 Q 832.85 57.8 834.53 57.8 L 847.27 57.8 Q 848.95 57.8 848.95 56.12 L 848.95 52.2 Z" fill="#f2f2f2" stroke="#0c0c0c" stroke-width="1.06" />
<line x1="836.71" y1="52.2" x2="836.71" y2="57.8" stroke="#0c0c0c" stroke-width="0.85"/>
<line x1="845.09" y1="52.2" x2="845.09" y2="57.8" stroke="#0c0c0c" stroke-width="0.85"/>
<path d="M 835.43 57.8 C 835.43 65.21 846.37 65.21 846.37 57.8" fill="none" stroke="#0c0c0c" stroke-width="1.06" />
<line x1="836.52" y1="60.37" x2="845.28" y2="60.37" stroke="#0c0c0c" stroke-width="0.7"/>
<line x1="840.9" y1="10.2" x2="840.9" y2="64" stroke="#1c1c1c" stroke-width="0.65" stroke-dasharray="5 1.2 1.2 1.2"/>
<line x1="800.9" y1="66.3" x2="824.9" y2="66.3" stroke="#0c0c0c" stroke-width="1"/>
<line x1="800.9" y1="69.7" x2="824.9" y2="69.7" stroke="#0c0c0c" stroke-width="1"/>
<line x1="800.9" y1="64" x2="800.9" y2="98.6" stroke="#0c0c0c" stroke-width="1.2"/>
<line x1="800.9" y1="110.9" x2="800.9" y2="222.6" stroke="#0c0c0c" stroke-width="1.2"/>
<line x1="800.9" y1="235.4" x2="800.9" y2="296" stroke="#0c0c0c" stroke-width="1.2"/>
<line x1="824.9" y1="64" x2="824.9" y2="296" stroke="#0c0c0c" stroke-width="1.2"/>
<line x1="830" y1="90.2" x2="830" y2="241" stroke="#0c0c0c" stroke-width="1.15"/>
<line x1="827.4" y1="91.7" x2="827.4" y2="241" stroke="#0c0c0c" stroke-width="0.7" stroke-dasharray="3.5 2"/>
<path d="M 800.9 122.6 Q 807 124.2 813.1 123.1 T 824.9 123.2" fill="none" stroke="#0c0c0c" stroke-width="0.8" />
<clipPath id="h9"><rect x="800.9" y="122.6" width="3.7" height="77.4"/></clipPath>
<path d="M800.9 122.6L804.6 118.9M800.9 124.9L804.6 121.2M800.9 127.2L804.6 123.5M800.9 129.5L804.6 125.8M800.9 131.8L804.6 128.1M800.9 134.1L804.6 130.4M800.9 136.4L804.6 132.7M800.9 138.7L804.6 135M800.9 141L804.6 137.3M800.9 143.3L804.6 139.6M800.9 145.6L804.6 141.9M800.9 147.9L804.6 144.2M800.9 150.2L804.6 146.5M800.9 152.5L804.6 148.8M800.9 154.8L804.6 151.1M800.9 157.1L804.6 153.4M800.9 159.4L804.6 155.7M800.9 161.7L804.6 158M800.9 164L804.6 160.3M800.9 166.3L804.6 162.6M800.9 168.6L804.6 164.9M800.9 170.9L804.6 167.2M800.9 173.2L804.6 169.5M800.9 175.5L804.6 171.8M800.9 177.8L804.6 174.1M800.9 180.1L804.6 176.4M800.9 182.4L804.6 178.7M800.9 184.7L804.6 181M800.9 187L804.6 183.3M800.9 189.3L804.6 185.6M800.9 191.6L804.6 187.9M800.9 193.9L804.6 190.2M800.9 196.2L804.6 192.5M800.9 198.5L804.6 194.8M800.9 200.8L804.6 197.1M800.9 203.1L804.6 199.4M800.9 205.4L804.6 201.7" stroke="#0c0c0c" stroke-width="0.8" fill="none" clip-path="url(#h9)"/>
<clipPath id="h10"><rect x="821.2" y="122.6" width="3.7" height="77.4"/></clipPath>
<path d="M821.2 122.6L824.9 118.9M821.2 124.9L824.9 121.2M821.2 127.2L824.9 123.5M821.2 129.5L824.9 125.8M821.2 131.8L824.9 128.1M821.2 134.1L824.9 130.4M821.2 136.4L824.9 132.7M821.2 138.7L824.9 135M821.2 141L824.9 137.3M821.2 143.3L824.9 139.6M821.2 145.6L824.9 141.9M821.2 147.9L824.9 144.2M821.2 150.2L824.9 146.5M821.2 152.5L824.9 148.8M821.2 154.8L824.9 151.1M821.2 157.1L824.9 153.4M821.2 159.4L824.9 155.7M821.2 161.7L824.9 158M821.2 164L824.9 160.3M821.2 166.3L824.9 162.6M821.2 168.6L824.9 164.9M821.2 170.9L824.9 167.2M821.2 173.2L824.9 169.5M821.2 175.5L824.9 171.8M821.2 177.8L824.9 174.1M821.2 180.1L824.9 176.4M821.2 182.4L824.9 178.7M821.2 184.7L824.9 181M821.2 187L824.9 183.3M821.2 189.3L824.9 185.6M821.2 191.6L824.9 187.9M821.2 193.9L824.9 190.2M821.2 196.2L824.9 192.5M821.2 198.5L824.9 194.8M821.2 200.8L824.9 197.1M821.2 203.1L824.9 199.4M821.2 205.4L824.9 201.7" stroke="#0c0c0c" stroke-width="0.8" fill="none" clip-path="url(#h10)"/>
<line x1="804.6" y1="122.6" x2="804.6" y2="200" stroke="#0c0c0c" stroke-width="0.85"/>
<line x1="821.2" y1="122.6" x2="821.2" y2="200" stroke="#0c0c0c" stroke-width="0.85"/>
<line x1="800.9" y1="200" x2="824.9" y2="200" stroke="#0c0c0c" stroke-width="1.25"/>
<path d="M 807.8 178 L 807.8 145.47 Q 807.8 142.7 810.57 142.7 L 816.12 142.7 Q 818.9 142.7 818.9 145.47 L 818.9 178" fill="#f2f2f2" stroke="#0c0c0c" stroke-width="1" />
<line x1="807.8" y1="145.47" x2="818.9" y2="145.47" stroke="#0c0c0c" stroke-width="0.7"/>
<path d="M 807.8 178 L 809.3 179.6 L 817.4 179.6 L 818.9 178 Z" fill="none" stroke="#0c0c0c" stroke-width="0.9" />
<rect x="807.8" y="156.4" width="11.1" height="2.4" rx="0" fill="#0c0c0c" stroke="#0c0c0c" stroke-width="0.6"/>
<line x1="804.6" y1="180.5" x2="807.8" y2="180.5" stroke="#0c0c0c" stroke-width="0.7"/>
<line x1="818.9" y1="180.5" x2="821.2" y2="180.5" stroke="#0c0c0c" stroke-width="0.7"/>
<rect x="804.9" y="180.8" width="16.1" height="19.2" fill="#e7e7e7"/>
<path d="M805.5 182.06h2.4M809.4 182.06h2.4M813.3 182.06h2.4M817.2 182.06h2.4M807.45 184.16h2.4M811.35 184.16h2.4M815.25 184.16h2.4M805.5 186.26h2.4M809.4 186.26h2.4M813.3 186.26h2.4M817.2 186.26h2.4M807.45 188.36h2.4M811.35 188.36h2.4M815.25 188.36h2.4M805.5 190.46h2.4M809.4 190.46h2.4M813.3 190.46h2.4M817.2 190.46h2.4M807.45 192.56h2.4M811.35 192.56h2.4M815.25 192.56h2.4M805.5 194.66h2.4M809.4 194.66h2.4M813.3 194.66h2.4M817.2 194.66h2.4M807.45 196.76h2.4M811.35 196.76h2.4M815.25 196.76h2.4M805.5 198.86h2.4M809.4 198.86h2.4M813.3 198.86h2.4M817.2 198.86h2.4" stroke="#0c0c0c" stroke-width="0.9" fill="none"/>
<rect x="799.5" y="87" width="30.7" height="3.2" rx="0.9" fill="#f2f2f2" stroke="#0c0c0c" stroke-width="1.25"/>
<rect x="795.7" y="114.2" width="5.2" height="9.1" rx="1.2" fill="#f2f2f2" stroke="#0c0c0c" stroke-width="0.95"/>
<rect x="795.8" y="117" width="29.8" height="3.3" rx="1.5" fill="#f2f2f2" stroke="#0c0c0c" stroke-width="1.25"/>
<rect x="799.3" y="241" width="31" height="2.9" rx="0.9" fill="#f2f2f2" stroke="#0c0c0c" stroke-width="1.25"/>
<rect x="745" y="78" width="12" height="54.5" rx="0.8" fill="#f2f2f2" stroke="#0c0c0c" stroke-width="1.25"/>
<line x1="744" y1="92.5" x2="744" y2="117.1" stroke="#0c0c0c" stroke-width="1.9"/>
<line x1="742.8" y1="85.8" x2="759.2" y2="85.8" stroke="#1c1c1c" stroke-width="0.7" stroke-dasharray="3 1 1 1"/>
<line x1="742.8" y1="124.7" x2="759.2" y2="124.7" stroke="#1c1c1c" stroke-width="0.7" stroke-dasharray="3 1 1 1"/>
<path d="M 757 92.5 L 768.75 98.7 L 799.2 98.7" fill="none" stroke="#0c0c0c" stroke-width="1.25" />
<path d="M 757 117.1 L 768.75 110.9 L 799.2 110.9" fill="none" stroke="#0c0c0c" stroke-width="1.25" />
<line x1="768.75" y1="98.7" x2="768.75" y2="110.9" stroke="#0c0c0c" stroke-width="1.25"/>
<line x1="771.35" y1="98.7" x2="771.35" y2="110.9" stroke="#0c0c0c" stroke-width="0.9"/>
<path d="M 799.2 98.7 A 6.2 6.1 0 0 1 799.2 110.9" fill="none" stroke="#0c0c0c" stroke-width="1.25" />
<rect x="745" y="200.75" width="12" height="55.5" rx="0.8" fill="#f2f2f2" stroke="#0c0c0c" stroke-width="1.25"/>
<line x1="744" y1="215.9" x2="744" y2="241.5" stroke="#0c0c0c" stroke-width="1.9"/>
<line x1="742.8" y1="208.55" x2="759.2" y2="208.55" stroke="#1c1c1c" stroke-width="0.7" stroke-dasharray="3 1 1 1"/>
<line x1="742.8" y1="248.45" x2="759.2" y2="248.45" stroke="#1c1c1c" stroke-width="0.7" stroke-dasharray="3 1 1 1"/>
<path d="M 757 216.1 L 768.75 222.3 L 799.2 222.3" fill="none" stroke="#0c0c0c" stroke-width="1.25" />
<path d="M 757 241.3 L 768.75 235.1 L 799.2 235.1" fill="none" stroke="#0c0c0c" stroke-width="1.25" />
<line x1="768.75" y1="222.3" x2="768.75" y2="235.1" stroke="#0c0c0c" stroke-width="1.25"/>
<line x1="771.35" y1="222.3" x2="771.35" y2="235.1" stroke="#0c0c0c" stroke-width="0.9"/>
<path d="M 799.2 222.3 A 6.2 6.4 0 0 1 799.2 235.1" fill="none" stroke="#0c0c0c" stroke-width="1.25" />
<line x1="731" y1="104.8" x2="815" y2="104.8" stroke="#1c1c1c" stroke-width="0.75" stroke-dasharray="28 1.5 1.5 1.5"/>
<line x1="731" y1="229" x2="815" y2="229" stroke="#1c1c1c" stroke-width="0.75" stroke-dasharray="28 1.5 1.5 1.5"/>
<line x1="800.9" y1="290" x2="824.9" y2="290" stroke="#0c0c0c" stroke-width="1.25"/>
<line x1="800.9" y1="294.5" x2="824.9" y2="294.5" stroke="#0c0c0c" stroke-width="0.9"/>
<line x1="781.27" y1="320.6" x2="781.27" y2="325.4" stroke="#0c0c0c" stroke-width="0.8"/>
<line x1="789.32" y1="320.6" x2="789.32" y2="325.4" stroke="#0c0c0c" stroke-width="0.8"/>
<line x1="797.58" y1="320.6" x2="797.58" y2="325.4" stroke="#0c0c0c" stroke-width="0.8"/>
<line x1="805.62" y1="320.6" x2="805.62" y2="325.4" stroke="#0c0c0c" stroke-width="0.8"/>
<line x1="820.58" y1="320.6" x2="820.58" y2="325.4" stroke="#0c0c0c" stroke-width="0.8"/>
<line x1="828.62" y1="320.6" x2="828.62" y2="325.4" stroke="#0c0c0c" stroke-width="0.8"/>
<line x1="836.88" y1="320.6" x2="836.88" y2="325.4" stroke="#0c0c0c" stroke-width="0.8"/>
<line x1="844.92" y1="320.6" x2="844.92" y2="325.4" stroke="#0c0c0c" stroke-width="0.8"/>
<rect x="773.4" y="307.9" width="79.6" height="12.7" rx="0.9" fill="#f2f2f2" stroke="#0c0c0c" stroke-width="1.25"/>
<rect x="773.4" y="325.4" width="79.6" height="12.7" rx="0.9" fill="#f2f2f2" stroke="#0c0c0c" stroke-width="1.25"/>
<line x1="790.5" y1="323" x2="835.6" y2="323" stroke="#0c0c0c" stroke-width="2.3"/>
<rect x="799" y="321.8" width="5.2" height="2.4" rx="1.2" fill="#f2f2f2" stroke="#0c0c0c" stroke-width="0.8"/>
<rect x="822" y="321.8" width="5.2" height="2.4" rx="1.2" fill="#f2f2f2" stroke="#0c0c0c" stroke-width="0.8"/>
<path d="M 777.25 307.9 L 777.25 303.84 Q 777.25 302.1 778.99 302.1 L 791.61 302.1 Q 793.35 302.1 793.35 303.84 L 793.35 307.9 Z" fill="#f2f2f2" stroke="#0c0c0c" stroke-width="1.06" />
<line x1="781.11" y1="302.1" x2="781.11" y2="307.9" stroke="#0c0c0c" stroke-width="0.85"/>
<line x1="789.49" y1="302.1" x2="789.49" y2="307.9" stroke="#0c0c0c" stroke-width="0.85"/>
<path d="M 779.83 302.1 C 779.83 294.82 790.77 294.82 790.77 302.1" fill="none" stroke="#0c0c0c" stroke-width="1.06" />
<line x1="780.92" y1="299.58" x2="789.68" y2="299.58" stroke="#0c0c0c" stroke-width="0.7"/>
<path d="M 777.25 338.1 L 777.25 342.3 Q 777.25 344.1 779.05 344.1 L 791.55 344.1 Q 793.35 344.1 793.35 342.3 L 793.35 338.1 Z" fill="#f2f2f2" stroke="#0c0c0c" stroke-width="1.06" />
<line x1="781.11" y1="338.1" x2="781.11" y2="344.1" stroke="#0c0c0c" stroke-width="0.85"/>
<line x1="789.49" y1="338.1" x2="789.49" y2="344.1" stroke="#0c0c0c" stroke-width="0.85"/>
<path d="M 779.83 344.1 C 779.83 351.12 790.77 351.12 790.77 344.1" fill="none" stroke="#0c0c0c" stroke-width="1.06" />
<line x1="780.92" y1="346.53" x2="789.68" y2="346.53" stroke="#0c0c0c" stroke-width="0.7"/>
<line x1="785.3" y1="296" x2="785.3" y2="350" stroke="#1c1c1c" stroke-width="0.65" stroke-dasharray="5 1.2 1.2 1.2"/>
<path d="M 793.55 307.9 L 793.55 303.84 Q 793.55 302.1 795.29 302.1 L 807.91 302.1 Q 809.65 302.1 809.65 303.84 L 809.65 307.9 Z" fill="#f2f2f2" stroke="#0c0c0c" stroke-width="1.06" />
<line x1="797.41" y1="302.1" x2="797.41" y2="307.9" stroke="#0c0c0c" stroke-width="0.85"/>
<line x1="805.79" y1="302.1" x2="805.79" y2="307.9" stroke="#0c0c0c" stroke-width="0.85"/>
<path d="M 796.13 302.1 C 796.13 294.82 807.07 294.82 807.07 302.1" fill="none" stroke="#0c0c0c" stroke-width="1.06" />
<line x1="797.22" y1="299.58" x2="805.98" y2="299.58" stroke="#0c0c0c" stroke-width="0.7"/>
<path d="M 793.55 338.1 L 793.55 342.3 Q 793.55 344.1 795.35 344.1 L 807.85 344.1 Q 809.65 344.1 809.65 342.3 L 809.65 338.1 Z" fill="#f2f2f2" stroke="#0c0c0c" stroke-width="1.06" />
<line x1="797.41" y1="338.1" x2="797.41" y2="344.1" stroke="#0c0c0c" stroke-width="0.85"/>
<line x1="805.79" y1="338.1" x2="805.79" y2="344.1" stroke="#0c0c0c" stroke-width="0.85"/>
<path d="M 796.13 344.1 C 796.13 351.12 807.07 351.12 807.07 344.1" fill="none" stroke="#0c0c0c" stroke-width="1.06" />
<line x1="797.22" y1="346.53" x2="805.98" y2="346.53" stroke="#0c0c0c" stroke-width="0.7"/>
<line x1="801.6" y1="296" x2="801.6" y2="350" stroke="#1c1c1c" stroke-width="0.65" stroke-dasharray="5 1.2 1.2 1.2"/>
<path d="M 816.55 307.9 L 816.55 303.84 Q 816.55 302.1 818.29 302.1 L 830.91 302.1 Q 832.65 302.1 832.65 303.84 L 832.65 307.9 Z" fill="#f2f2f2" stroke="#0c0c0c" stroke-width="1.06" />
<line x1="820.41" y1="302.1" x2="820.41" y2="307.9" stroke="#0c0c0c" stroke-width="0.85"/>
<line x1="828.79" y1="302.1" x2="828.79" y2="307.9" stroke="#0c0c0c" stroke-width="0.85"/>
<path d="M 819.13 302.1 C 819.13 294.82 830.07 294.82 830.07 302.1" fill="none" stroke="#0c0c0c" stroke-width="1.06" />
<line x1="820.22" y1="299.58" x2="828.98" y2="299.58" stroke="#0c0c0c" stroke-width="0.7"/>
<path d="M 816.55 338.1 L 816.55 342.3 Q 816.55 344.1 818.35 344.1 L 830.85 344.1 Q 832.65 344.1 832.65 342.3 L 832.65 338.1 Z" fill="#f2f2f2" stroke="#0c0c0c" stroke-width="1.06" />
<line x1="820.41" y1="338.1" x2="820.41" y2="344.1" stroke="#0c0c0c" stroke-width="0.85"/>
<line x1="828.79" y1="338.1" x2="828.79" y2="344.1" stroke="#0c0c0c" stroke-width="0.85"/>
<path d="M 819.13 344.1 C 819.13 351.12 830.07 351.12 830.07 344.1" fill="none" stroke="#0c0c0c" stroke-width="1.06" />
<line x1="820.22" y1="346.53" x2="828.98" y2="346.53" stroke="#0c0c0c" stroke-width="0.7"/>
<line x1="824.6" y1="296" x2="824.6" y2="350" stroke="#1c1c1c" stroke-width="0.65" stroke-dasharray="5 1.2 1.2 1.2"/>
<path d="M 832.85 307.9 L 832.85 303.84 Q 832.85 302.1 834.59 302.1 L 847.21 302.1 Q 848.95 302.1 848.95 303.84 L 848.95 307.9 Z" fill="#f2f2f2" stroke="#0c0c0c" stroke-width="1.06" />
<line x1="836.71" y1="302.1" x2="836.71" y2="307.9" stroke="#0c0c0c" stroke-width="0.85"/>
<line x1="845.09" y1="302.1" x2="845.09" y2="307.9" stroke="#0c0c0c" stroke-width="0.85"/>
<path d="M 835.43 302.1 C 835.43 294.82 846.37 294.82 846.37 302.1" fill="none" stroke="#0c0c0c" stroke-width="1.06" />
<line x1="836.52" y1="299.58" x2="845.28" y2="299.58" stroke="#0c0c0c" stroke-width="0.7"/>
<path d="M 832.85 338.1 L 832.85 342.3 Q 832.85 344.1 834.65 344.1 L 847.15 344.1 Q 848.95 344.1 848.95 342.3 L 848.95 338.1 Z" fill="#f2f2f2" stroke="#0c0c0c" stroke-width="1.06" />
<line x1="836.71" y1="338.1" x2="836.71" y2="344.1" stroke="#0c0c0c" stroke-width="0.85"/>
<line x1="845.09" y1="338.1" x2="845.09" y2="344.1" stroke="#0c0c0c" stroke-width="0.85"/>
<path d="M 835.43 344.1 C 835.43 351.12 846.37 351.12 846.37 344.1" fill="none" stroke="#0c0c0c" stroke-width="1.06" />
<line x1="836.52" y1="346.53" x2="845.28" y2="346.53" stroke="#0c0c0c" stroke-width="0.7"/>
<line x1="840.9" y1="296" x2="840.9" y2="350" stroke="#1c1c1c" stroke-width="0.65" stroke-dasharray="5 1.2 1.2 1.2"/>
<line x1="731.25" y1="38" x2="773" y2="38" stroke="#1c1c1c" stroke-width="0.75"/>
<line x1="731.25" y1="321.75" x2="773" y2="321.75" stroke="#1c1c1c" stroke-width="0.75"/>
<line x1="734.6" y1="38" x2="734.6" y2="321.75" stroke="#1c1c1c" stroke-width="0.75"/>
<polygon points="734.6,38 733.45,43.6 735.75,43.6" fill="#0c0c0c"/>
<polygon points="734.6,104.8 733.45,99.2 735.75,99.2" fill="#0c0c0c"/>
<polygon points="734.6,104.8 733.45,110.4 735.75,110.4" fill="#0c0c0c"/>
<polygon points="734.6,229 733.45,223.4 735.75,223.4" fill="#0c0c0c"/>
<polygon points="734.6,229 733.45,234.6 735.75,234.6" fill="#0c0c0c"/>
<polygon points="734.6,321.75 733.45,316.15 735.75,316.15" fill="#0c0c0c"/>
<text x="731.6" y="73.75" font-size="9.8" text-anchor="middle" fill="#2a2a2a" transform="rotate(-90 731.6 73.75)">B</text>
<text x="731.6" y="167" font-size="7.9" text-anchor="middle" fill="#111" transform="rotate(-90 731.6 167)" textLength="78.4" lengthAdjust="spacing" stroke="#f2f2f2" stroke-width="0.1">Measuring length L</text>
<text x="731.6" y="274.5" font-size="9.8" text-anchor="middle" fill="#2a2a2a" transform="rotate(-90 731.6 274.5)">A</text>
<line x1="770" y1="240" x2="770" y2="284" stroke="#1c1c1c" stroke-width="0.75"/>
<line x1="770" y1="280" x2="801.25" y2="280" stroke="#1c1c1c" stroke-width="0.75"/>
<polygon points="770,280 775.6,278.85 775.6,281.15" fill="#0c0c0c"/>
<polygon points="801.25,280 795.65,278.85 795.65,281.15" fill="#0c0c0c"/>
<text x="785.6" y="279" font-size="11" text-anchor="middle" fill="#1e1e1e">C</text>
</g>
<text y="384.5" font-size="17.5" text-anchor="start" fill="#151515" stroke="#f2f2f2" stroke-width="0.42"><tspan x="100.4" textLength="41.4" lengthAdjust="spacing">ITA3</tspan> <tspan x="149" textLength="46.6" lengthAdjust="spacing">PN16</tspan></text>
<text y="384.8" font-size="17.5" text-anchor="start" fill="#151515" stroke="#f2f2f2" stroke-width="0.42"><tspan x="309.3" textLength="39.4" lengthAdjust="spacing">ITA7</tspan> <tspan x="364.4" textLength="49" lengthAdjust="spacing">PN64</tspan></text>
<text y="384.5" font-size="17.5" text-anchor="start" fill="#151515" stroke="#f2f2f2" stroke-width="0.42"><tspan x="520.9" textLength="46.8" lengthAdjust="spacing">ITA11</tspan> <tspan x="576" textLength="56.6" lengthAdjust="spacing">PN160</tspan></text>
<text y="384.6" font-size="17.5" text-anchor="start" fill="#151515" stroke="#f2f2f2" stroke-width="0.42"><tspan x="736" textLength="49.2" lengthAdjust="spacing">ITA12</tspan> <tspan x="800.9" textLength="58.4" lengthAdjust="spacing">PN250</tspan></text>
</svg>
</body></html>
